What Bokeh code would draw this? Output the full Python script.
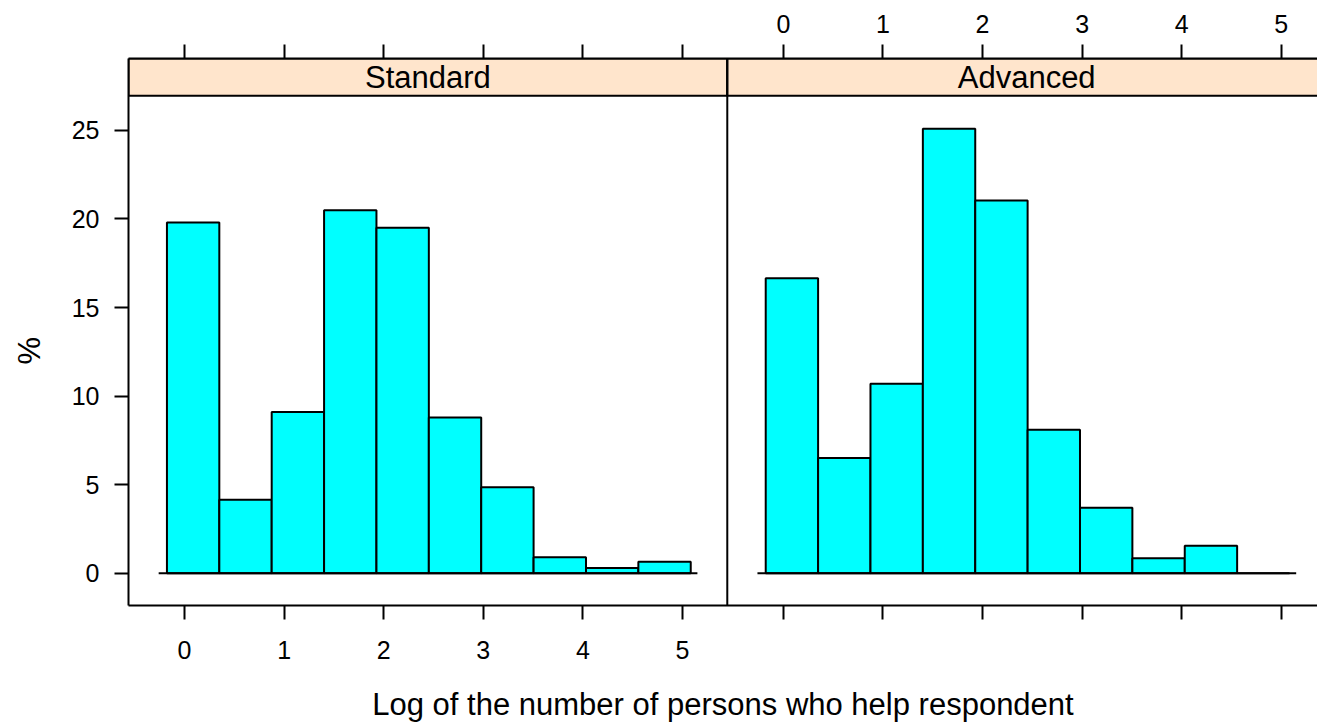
import math
from bokeh.plotting import figure
from bokeh.layouts import row
from bokeh.models import Range1d, LinearAxis, FixedTicker, CustomJSTickFormatter, Span
from bokeh.embed import file_html
from bokeh.resources import INLINE
from bokeh.core.properties import value

# ---------------- data ----------------
panels = ["Standard", "Advanced"]
breaks = [-0.177, 0.349, 0.875, 1.401, 1.927, 2.453, 2.979, 3.505, 4.031, 4.557, 5.083]
pct_standard = [19.8, 4.15, 9.1, 20.5, 19.5, 8.8, 4.85, 0.9, 0.3, 0.65]
pct_advanced = [16.65, 6.5, 10.7, 25.1, 21.05, 8.1, 3.7, 0.85, 1.55, 0.0]
x_ticks = [0, 1, 2, 3, 4, 5]
y_ticks = [0, 5, 10, 15, 20, 25]
xlab = "Log of the number of persons who help respondent"
ylab = "%"

# ---------------- layout / style ----------------
xlim = (-0.563, 5.45)      # per-panel x limits
ylim = (-1.82, 26.96)      # panel y limits
strip_h = 2.10             # strip height in y units
base_x = (-0.26, 5.15)     # extent of the zero baseline
visible = 1.9857           # visible width (in panels) of the page
FONT = "Liberation Sans"
STRIP_BG = "#FFE5CC"
BAR_FILL = "#00FFFF"
LW = 2

TOP, BOTTOM = 58, 118
LAB_W = 60

pw = xlim[1] - xlim[0]
yr = (ylim[0], ylim[1] + strip_h)

# narrow figure holding the rotated y-axis title
lab = figure(width=LAB_W, height=724, output_backend="svg", toolbar_location=None,
             x_range=Range1d(0, LAB_W), y_range=Range1d(*yr),
             x_axis_location=None, y_axis_location=None,
             min_border_left=0, min_border_right=0,
             min_border_top=TOP, min_border_bottom=BOTTOM)
lab.outline_line_color = None
lab.grid.visible = False
lab.text(x=[29], y=[(ylim[0] + ylim[1]) / 2], text=[ylab], angle=math.pi / 2,
         text_align="center", text_baseline="middle", text_color="black",
         text_font=value(FONT), text_font_size="31px")

p = figure(width=1317 - LAB_W, height=724, output_backend="svg", toolbar_location=None,
           x_range=Range1d(xlim[0], xlim[0] + visible * pw),
           y_range=Range1d(*yr),
           x_axis_location=None, y_axis_location=None,
           min_border_left=128 - LAB_W, min_border_right=0,
           min_border_top=TOP, min_border_bottom=BOTTOM)
p.extra_x_ranges = {"adv": Range1d(xlim[0] - pw, xlim[0] + visible * pw - pw)}
p.outline_line_color = None
p.grid.visible = False
p.background_fill_color = "white"
p.border_fill_color = "white"


def style_axis(ax, standoff):
    ax.major_tick_out = 14
    ax.major_tick_in = 0
    ax.minor_tick_out = 0
    ax.minor_tick_in = 0
    ax.axis_line_color = "black"
    ax.axis_line_width = LW
    ax.major_tick_line_color = "black"
    ax.major_tick_line_width = LW
    ax.major_label_text_font = FONT
    ax.major_label_text_font_size = "25px"
    ax.major_label_text_color = "black"
    ax.major_label_standoff = standoff


bottom = LinearAxis(ticker=FixedTicker(ticks=x_ticks + [t + pw for t in x_ticks]),
                    formatter=CustomJSTickFormatter(
                        code="return tick < %f ? tick.toFixed(0) : '';" % xlim[1]))
style_axis(bottom, 21)
bottom.axis_label = xlab
bottom.axis_label_text_font = FONT
bottom.axis_label_text_font_size = "31px"
bottom.axis_label_text_font_style = "normal"
bottom.axis_label_text_color = "black"
bottom.axis_label_standoff = 25
p.add_layout(bottom, "below")

top = LinearAxis(x_range_name="adv",
                 ticker=FixedTicker(ticks=[t - pw for t in x_ticks] + x_ticks),
                 formatter=CustomJSTickFormatter(
                     code="return tick > %f ? tick.toFixed(0) : '';" % xlim[0]))
style_axis(top, 12)
p.add_layout(top, "above")

left = LinearAxis(ticker=FixedTicker(ticks=y_ticks))
style_axis(left, 15)
p.add_layout(left, "left")

# panels
for name, vals, rng in [(panels[0], pct_standard, "default"), (panels[1], pct_advanced, "adv")]:
    p.quad(left=breaks[:-1], right=breaks[1:], bottom=[0] * len(vals), top=vals,
           fill_color=BAR_FILL, line_color="black", line_width=LW, x_range_name=rng)
    p.line(x=list(base_x), y=[0, 0], line_color="black", line_width=LW, x_range_name=rng)
    p.quad(left=[xlim[0]], right=[xlim[1]], bottom=[ylim[1]], top=[ylim[1] + strip_h],
           fill_color=STRIP_BG, line_color="black", line_width=LW, x_range_name=rng)
    p.text(x=[(xlim[0] + xlim[1]) / 2], y=[ylim[1] + strip_h / 2], text=[name],
           text_align="center", text_baseline="middle", text_color="black",
           text_font=value(FONT), text_font_size="31px", x_range_name=rng)

p.add_layout(Span(location=xlim[1], dimension="height", line_color="black", line_width=LW))

layout = row(lab, p, spacing=0)
open("out.html", "w").write(file_html(layout, INLINE))
